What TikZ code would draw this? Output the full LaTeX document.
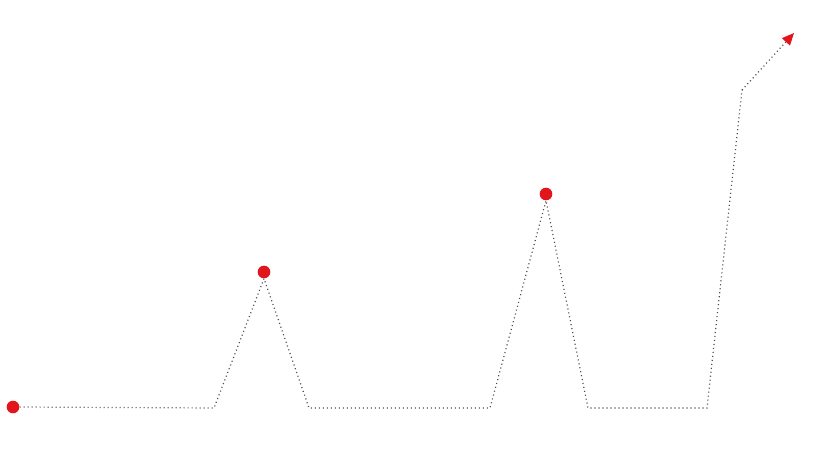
\documentclass[tikz,border=0pt]{standalone}
\usepackage{tikz}
\usetikzlibrary{positioning,arrows.meta}
\definecolor{peakred}{RGB}{226,20,28}
\tikzstyle{trend}=[draw=black!70,line width=0.9pt,dash pattern=on 0.8pt off 2.2pt]
\tikzstyle{marker}=[circle,fill=peakred,inner sep=0pt,minimum size=9.5pt]
\def\floorlevel{408}

\begin{document}
\begin{tikzpicture}[x=0.75pt,y=-0.75pt]
    \useasboundingbox (0,0) rectangle (813,453);
    % markers
    \node[marker] (start) at (13,407) {};
    \node[marker] (peaka) at (264,272) {};
    \node[marker] (peakb) at (546,194) {};
    % corners of the trend line
    \coordinate (a1) at (214,\floorlevel);
    \coordinate (a2) at (309,\floorlevel);
    \coordinate (b1) at (490,\floorlevel);
    \coordinate (b2) at (588,\floorlevel);
    \coordinate (c1) at (707,\floorlevel);
    \coordinate (c2) at (742,90);
    \coordinate (tip) at (794,33);
    \draw[trend] (start.east) -- (a1) -- (peaka.south) -- (a2) -- (b1)
        -- (peakb.south) -- (b2) -- (c1) -- (c2);
    \draw[trend,-{Triangle[length=9pt,width=8pt,fill=peakred,color=peakred]}] (c2) -- (tip);
\end{tikzpicture}
\end{document}
